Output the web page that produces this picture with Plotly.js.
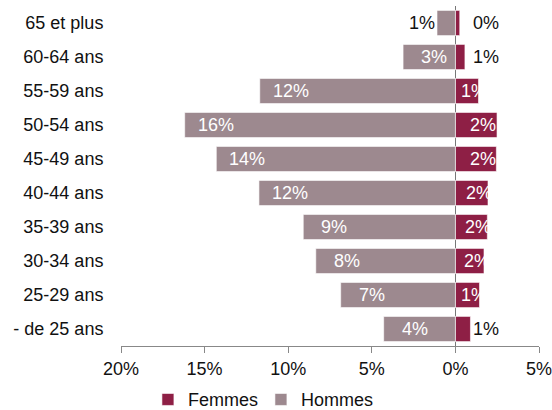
<!DOCTYPE html>
<html>
<head>
<meta charset="utf-8">
<script src="https://cdn.plot.ly/plotly-3.0.1.min.js"></script>
<style>html,body{margin:0;padding:0;background:#fff;}#chart{width:552px;height:410px;}</style>
</head>
<body>
<div id="chart"></div>
<script>
const categories = ["65 et plus","60-64 ans","55-59 ans","50-54 ans","45-49 ans","40-44 ans","35-39 ans","30-34 ans","25-29 ans","- de 25 ans"];
const femmes = [0.26,0.57,1.38,2.49,2.45,1.95,1.91,1.71,1.44,0.90];
const hommes = [1.10,3.13,11.70,16.19,14.30,11.75,9.10,8.35,6.86,4.29];
const tickVals = [-20,-15,-10,-5,0,5];
const tickText = ["20%","15%","10%","5%","0%","5%"];

const colF = "#8E1F45";
const colH = "#9D898F";
const FONT = "Liberation Sans, Arial, sans-serif";
const FS = 18;

const annotations = [];
categories.forEach((c,i)=>{
  const h = hommes[i], f = femmes[i];
  const ht = Math.round(h)+"%", ft = Math.round(f)+"%";
  if (h >= 2) {
    annotations.push({x:-h, y:c, xref:"x", yref:"y", text:ht, showarrow:false, xanchor:"center", xshift:31, font:{family:FONT,size:FS,color:"#fff"}});
  } else {
    annotations.push({x:-h, y:c, xref:"x", yref:"y", text:ht, showarrow:false, xanchor:"right", xshift:0, font:{family:FONT,size:FS,color:"#111"}});
  }
  if (f >= 1.2) {
    annotations.push({x:f/2, y:c, xref:"x", yref:"y", text:ft, showarrow:false, xanchor:"center", xshift:7, font:{family:FONT,size:FS,color:"#fff"}});
  } else {
    annotations.push({x:0.95, y:c, xref:"x", yref:"y", text:ft, showarrow:false, xanchor:"left", font:{family:FONT,size:FS,color:"#111"}});
  }
});

const data = [
  {type:"bar", orientation:"h", name:"Femmes", y:categories, x:femmes,
   marker:{color:colF, line:{color:"#fff", width:0.6}}, hoverinfo:"skip"},
  {type:"bar", orientation:"h", name:"Hommes", y:categories, x:hommes.map(v=>-v),
   marker:{color:colH, line:{color:"#fff", width:0.6}}, hoverinfo:"skip"}
];

const layout = {
  width:552, height:410,
  margin:{l:121, r:13, t:6, b:64, autoexpand:false},
  paper_bgcolor:"#fff", plot_bgcolor:"#fff",
  barmode:"relative", bargap:0.26,
  font:{family:FONT, size:FS, color:"#111"},
  showlegend:true,
  legend:{orientation:"h", xref:"container", yref:"container", x:0.268, xanchor:"left", y:0.025, yanchor:"middle",
          entrywidth:68, entrywidthmode:"pixels",
          traceorder:"normal", font:{family:FONT,size:FS,color:"#111"}, itemclick:false},
  xaxis:{range:[-20,5], tickvals:tickVals, ticktext:tickText, showgrid:false,
         showline:true, linecolor:"#888", linewidth:1, ticks:"outside", ticklen:6, tickcolor:"#888",
         ticklabeloverflow:"allow",
         zeroline:true, zerolinecolor:"#777", zerolinewidth:1, fixedrange:true,
         tickfont:{family:FONT,size:FS,color:"#111"}},
  yaxis:{type:"category", autorange:"reversed", showgrid:false, showline:false, zeroline:false,
         ticks:"outside", ticklen:13, tickcolor:"rgba(0,0,0,0)", fixedrange:true,
         tickfont:{family:FONT,size:FS,color:"#111"}},
  annotations:annotations
};

Plotly.newPlot("chart", data, layout, {displayModeBar:false, staticPlot:true});
</script>
</body>
</html>
